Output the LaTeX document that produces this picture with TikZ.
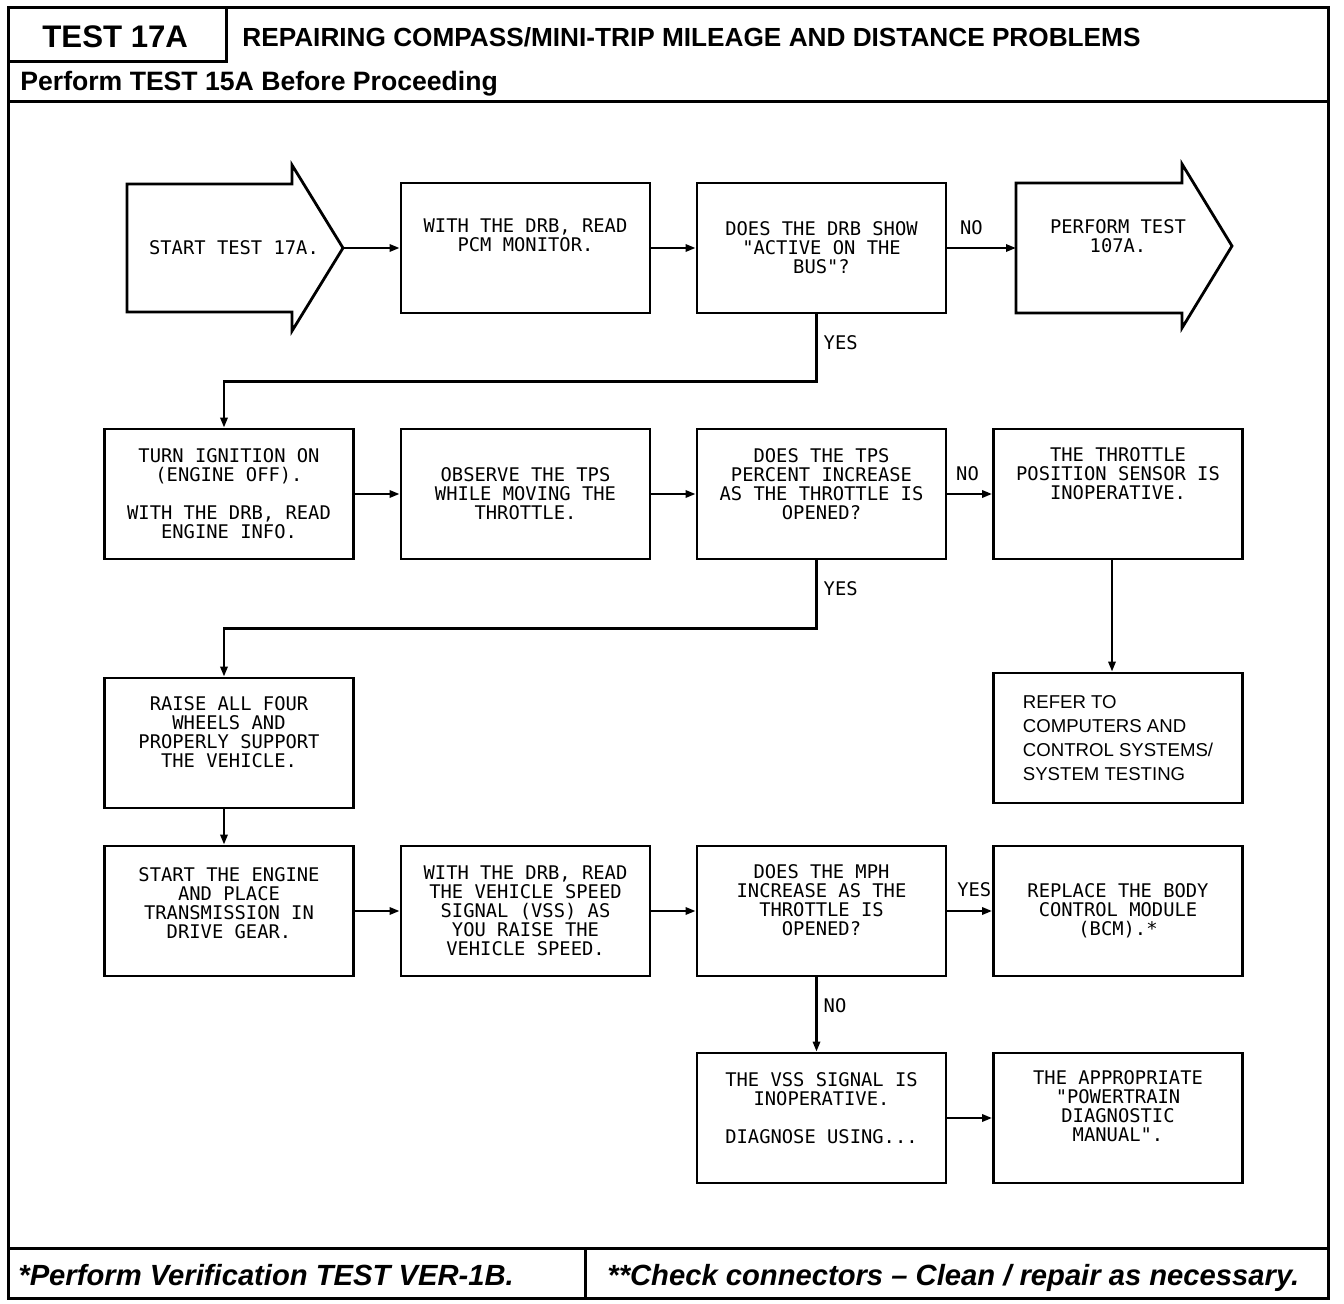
\documentclass[tikz,border=0pt]{standalone}
\usepackage{fontspec}
\setmainfont{Liberation Sans}
\setmonofont{DejaVu Sans Mono}
\usetikzlibrary{arrows.meta, positioning, calc}
\newcommand{\plotfont}{\fontsize{9.4}{9.5}\selectfont\ttfamily}
\tikzset{
  stepbox/.style = {draw, line width=1.4pt, minimum width=124.5pt,
                    minimum height=65pt, align=center, inner sep=0pt,
                    font=\plotfont},
  lift/.style    = {text depth=#1},
  flow/.style    = {-{Triangle[length=5pt, width=3.6pt]}, line width=1.2pt},
  branch/.style  = {font=\plotfont, inner sep=1pt},
  frame/.style   = {line width=1.5pt},
  bigarrow/.style = {line width=1.4pt, line join=miter},
  heading/.style = {font=\bfseries, anchor=base west, inner sep=0pt},
  footnote/.style = {font=\fontsize{14.6}{17}\selectfont\bfseries\itshape,
                     anchor=base west, inner sep=0pt},
}

\begin{document}
\begin{tikzpicture}[x=0.5pt, y=-0.5pt, >=Latex]
  \useasboundingbox (0,0) rectangle (1344,1304);

  % --- frame, header and footer ------------------------------------------
  \draw[frame] (8,8) rectangle (1328,1298);
  \draw[frame] (226,8) -- (226,62) -- (8,62);
  \draw[frame] (8,102) -- (1328,102);
  \draw[frame] (8,1248) -- (1328,1248);
  \draw[frame] (585,1248) -- (585,1298);

  \node[heading, font=\fontsize{15.6}{18}\selectfont\bfseries] (testno)
    at (42,48) {TEST 17A};
  \node[heading, font=\fontsize{13.1}{16}\selectfont\bfseries] (title)
    at (242,47) {REPAIRING COMPASS/MINI-TRIP MILEAGE AND DISTANCE PROBLEMS};
  \node[heading, font=\fontsize{13.3}{16}\selectfont\bfseries] (before)
    at (20,91) {Perform TEST 15A Before Proceeding};
  \node[footnote] (note1) at (18,1285) {*Perform Verification TEST VER-1B.};
  \node[footnote] (note2) at (607,1285)
    {**Check connectors – Clean / repair as necessary.};

  % --- entry and exit arrows ---------------------------------------------
  \draw[bigarrow] (127,184) -- (292,184) -- (292,165) -- (343,248)
    -- (292,331) -- (292,312) -- (127,312) -- cycle;
  \coordinate (starttip) at (343,248);
  \node[font=\plotfont] (start) at (234,248) {START TEST 17A.};

  \draw[bigarrow] (1016,183) -- (1182,183) -- (1182,164) -- (1232,246)
    -- (1182,328) -- (1182,313) -- (1016,313) -- cycle;
  \coordinate (perfin) at (1016,248);
  \node[font=\plotfont, align=center] (perform) at (1118,236)
    {PERFORM TEST\\107A.};

  % --- steps -------------------------------------------------------------
  \node[stepbox, lift=13pt] (drbread) at (525.5,248)
    {WITH THE DRB, READ\\PCM MONITOR.};
  \node[stepbox] (busq) at (821.5,248)
    {DOES THE DRB SHOW\\"ACTIVE ON THE\\BUS"?};

  \node[stepbox] (ignition) at (229,494)
    {TURN IGNITION ON\\(ENGINE OFF).\\[9.5pt]WITH THE DRB, READ\\ENGINE INFO.};
  \node[stepbox] (observe) at (525.5,494)
    {OBSERVE THE TPS\\WHILE MOVING THE\\THROTTLE.};
  \node[stepbox, lift=10pt] (tpsq) at (821.5,494)
    {DOES THE TPS\\PERCENT INCREASE\\AS THE THROTTLE IS\\OPENED?};
  \node[stepbox, lift=20pt] (tpsbad) at (1118,494)
    {THE THROTTLE\\POSITION SENSOR IS\\INOPERATIVE.};

  \node[stepbox, lift=11pt] (raise) at (229,743)
    {RAISE ALL FOUR\\WHEELS AND\\PROPERLY SUPPORT\\THE VEHICLE.};
  \node[stepbox, align=left, font=\fontsize{9.3}{12}\selectfont\rmfamily]
    (refer) at (1118,738)
    {REFER TO\\COMPUTERS AND\\CONTROL SYSTEMS/\\SYSTEM TESTING};

  \node[stepbox, lift=8pt] (engine) at (229,911)
    {START THE ENGINE\\AND PLACE\\TRANSMISSION IN\\DRIVE GEAR.};
  \node[stepbox] (vssread) at (525.5,911)
    {WITH THE DRB, READ\\THE VEHICLE SPEED\\SIGNAL (VSS) AS\\YOU RAISE THE\\VEHICLE SPEED.};
  \node[stepbox, lift=11pt] (mphq) at (821.5,911)
    {DOES THE MPH\\INCREASE AS THE\\THROTTLE IS\\OPENED?};
  \node[stepbox] (bcm) at (1118,911)
    {REPLACE THE BODY\\CONTROL MODULE\\(BCM).*};

  \node[stepbox, lift=10pt] (vssbad) at (821.5,1118)
    {THE VSS SIGNAL IS\\INOPERATIVE.\\[9.5pt]DIAGNOSE USING...};
  \node[stepbox, lift=12pt] (manual) at (1118,1118)
    {THE APPROPRIATE\\"POWERTRAIN\\DIAGNOSTIC\\MANUAL".};

  % --- connectors --------------------------------------------------------
  \draw[flow] (starttip) -- (drbread.west);
  \draw[flow] (drbread) -- (busq);
  \draw[flow] (busq) -- node[branch, above=5pt, pos=0.35] (no1) {NO} (perfin);
  \draw[flow] ([xshift=-2.5pt]busq.south)
    -- node[branch, right=2pt, pos=0.42] (yes1) {YES}
    ++(0,67) -| ([xshift=-2.5pt]ignition.north);

  \draw[flow] (ignition) -- (observe);
  \draw[flow] (observe) -- (tpsq);
  \draw[flow] (tpsq) -- node[branch, above=5pt, pos=0.45] (no2) {NO} (tpsbad);
  \draw[flow] ([xshift=-2.5pt]tpsq.south)
    -- node[branch, right=2pt, pos=0.42] (yes2) {YES}
    ++(0,68) -| ([xshift=-2.5pt]raise.north);
  \draw[flow] ([xshift=-3pt]tpsbad.south) -- ([xshift=-3pt]refer.north);

  \draw[flow] ([xshift=-2.5pt]raise.south) -- ([xshift=-2.5pt]engine.north);
  \draw[flow] (engine) -- (vssread);
  \draw[flow] (vssread) -- (mphq);
  \draw[flow] (mphq) -- node[branch, above=5.5pt, pos=0.6] (yes3) {YES} (bcm);
  \draw[flow] ([xshift=-2.5pt]mphq.south)
    -- node[branch, right=2pt, pos=0.38] (no3) {NO}
    ([xshift=-2.5pt]vssbad.north);
  \draw[flow] (vssbad) -- (manual);

\end{tikzpicture}
\end{document}
